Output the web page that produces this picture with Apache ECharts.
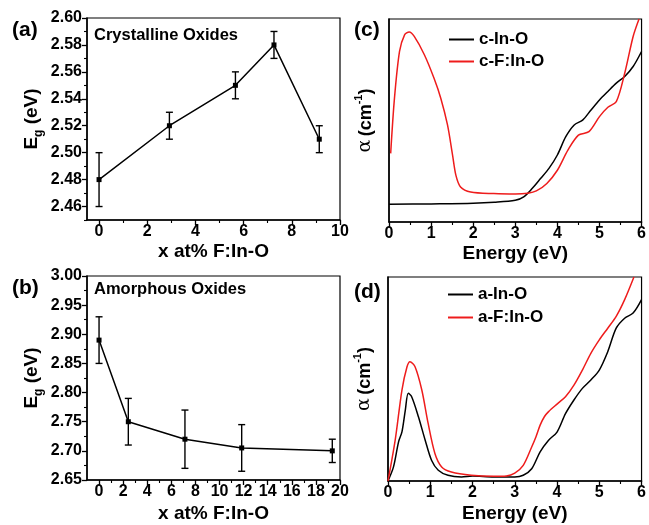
<!DOCTYPE html>
<html>
<head>
<meta charset="utf-8">
<script src="https://cdn.jsdelivr.net/npm/echarts@6/dist/echarts.min.js"></script>
<style>html,body{margin:0;padding:0;background:#fff;}#main{width:649px;height:525px;}</style>
</head>
<body>
<div id="main"></div>
<script>
// ---- Panel (a): crystalline oxides ----
var aX = [0, 2.92, 5.66, 7.26, 9.14];
var aY = [2.48, 2.52, 2.55, 2.58, 2.51];
var aErr = [0.02, 0.01, 0.01, 0.01, 0.01];
var aXTicks = [0, 2, 4, 6, 8, 10];
var aYTicks = [2.46, 2.48, 2.50, 2.52, 2.54, 2.56, 2.58, 2.60];

// ---- Panel (b): amorphous oxides ----
var bX = [0, 2.43, 7.13, 11.84, 19.36];
var bY = [2.89, 2.75, 2.72, 2.705, 2.70];
var bErr = [0.04, 0.04, 0.05, 0.04, 0.02];
var bXTicks = [0, 2, 4, 6, 8, 10, 12, 14, 16, 18, 20];
var bYTicks = [2.65, 2.70, 2.75, 2.80, 2.85, 2.90, 2.95, 3.00];

// ---- Panel (c): crystalline absorption spectra ----
var cInOX = [0, 1, 2, 2.5, 3.0, 3.2, 3.4, 3.6, 3.8, 4.0, 4.2, 4.4, 4.6, 4.8, 5.0, 5.2, 5.4, 5.6, 5.8, 6.0];
var cInOY = [8.7, 8.9, 9.2, 9.7, 10.7, 12.4, 16.5, 21.4, 26.4, 33, 42, 47.8, 50.2, 55.2, 60.1, 64.3, 68.4, 71.7, 76.6, 84];
var cFInOX = [0.04, 0.13, 0.25, 0.37, 0.48, 0.6, 0.84, 1.07, 1.23, 1.39, 1.51, 1.59, 1.7, 1.94, 2.49, 3.0, 3.3, 3.5, 3.75, 4.0, 4.25, 4.5, 4.75, 5.0, 5.2, 5.4, 5.6, 5.8, 5.94];
var cFInOY = [33.8, 61, 84, 92.2, 93.6, 91.4, 82.4, 70.8, 61, 47.8, 33, 23, 17.3, 14.8, 14.0, 13.8, 14.2, 15.3, 19, 25.5, 35.4, 42.8, 44.5, 51.9, 56.5, 59.3, 73.3, 91.4, 100];

// ---- Panel (d): amorphous absorption spectra ----
var aInOX = [0, 0.13, 0.25, 0.33, 0.41, 0.48, 0.56, 0.72, 0.88, 1.03, 1.19, 1.42, 1.74, 2.0, 2.5, 3.0, 3.2, 3.4, 3.6, 3.8, 4.0, 4.2, 4.4, 4.6, 4.8, 5.0, 5.2, 5.4, 5.6, 5.8, 6.0];
var aInOY = [0, 6.9, 19.2, 24.1, 34.8, 43, 41.3, 31.5, 20, 10.2, 5.3, 2.8, 2, 2.4, 2, 2, 2.8, 6, 14.3, 20, 24, 33, 39.7, 45.4, 49.5, 54.4, 63.4, 74.9, 79.8, 82.3, 88.9];
var aFInOX = [0, 0.17, 0.33, 0.45, 0.52, 0.64, 0.8, 0.95, 1.11, 1.27, 1.5, 1.97, 2.5, 2.8, 3.0, 3.2, 3.4, 3.5, 3.6, 3.7, 3.8, 4.0, 4.2, 4.4, 4.6, 4.8, 5.0, 5.2, 5.4, 5.6, 5.82];
var aFInOY = [0, 20, 44.6, 56, 58.5, 56, 44.6, 28.2, 13.5, 6.9, 4.4, 2.8, 2.3, 2.5, 3.9, 7.7, 16.7, 21.6, 27.4, 31.5, 34, 37.7, 41.3, 47, 54.4, 62.6, 69.2, 74.9, 80.7, 88.9, 100];
var eTicks = [0, 1, 2, 3, 4, 5, 6];

var FONT = '"Liberation Sans", Arial, sans-serif';

function pairs(xs, ys) { return xs.map(function (x, i) { return [x, ys[i]]; }); }
function errData(xs, ys, es) { return xs.map(function (x, i) { return [x, ys[i], ys[i] - es[i], ys[i] + es[i]]; }); }
function minors(majors) {
  var out = [];
  for (var i = 0; i < majors.length - 1; i++) out.push((majors[i] + majors[i + 1]) / 2);
  return out;
}

function mainX(grid, min, max, ticks, gap, name) {
  return {
    type: 'value', gridIndex: grid, min: min, max: max, position: 'bottom',
    axisLine: { show: true, onZero: false, lineStyle: { color: '#000', width: 1.5 } },
    axisTick: { show: true, inside: false, length: 5, customValues: ticks, lineStyle: { color: '#000', width: 1.3 } },
    axisLabel: { show: true, customValues: ticks, margin: 4, color: '#000', fontSize: 16, fontWeight: 'bold', fontFamily: FONT,
      formatter: function (v) { return String(Math.round(v)); } },
    splitLine: { show: false },
    name: name, nameLocation: 'middle', nameGap: gap,
    nameTextStyle: { fontSize: 19, fontWeight: 'bold', fontFamily: FONT, color: '#000' }
  };
}
function minorX(grid, min, max, ticks) {
  return {
    type: 'value', gridIndex: grid, min: min, max: max, position: 'bottom',
    axisLine: { show: false, onZero: false },
    axisTick: { show: true, inside: false, length: 3, customValues: ticks, lineStyle: { color: '#000', width: 1.1 } },
    axisLabel: { show: false }, splitLine: { show: false }
  };
}
function mainY(grid, min, max, ticks) {
  return {
    type: 'value', gridIndex: grid, min: min, max: max, position: 'left',
    axisLine: { show: true, onZero: false, lineStyle: { color: '#000', width: 1.5 } },
    axisTick: { show: true, inside: false, length: 5, customValues: ticks, lineStyle: { color: '#000', width: 1.3 } },
    axisLabel: { show: true, customValues: ticks, margin: 5, color: '#000', fontSize: 16, fontWeight: 'bold', fontFamily: FONT,
      formatter: function (v) { return v.toFixed(2); } },
    splitLine: { show: false },
    name: '{b|E}{s|g}{b| (eV)}', nameLocation: 'middle', nameGap: 46,
    nameTextStyle: { rich: {
      b: { fontSize: 19, fontWeight: 'bold', fontFamily: FONT, color: '#000', lineHeight: 24, verticalAlign: 'bottom' },
      s: { fontSize: 12, fontWeight: 'bold', fontFamily: FONT, color: '#000', lineHeight: 24, verticalAlign: 'bottom', padding: [0, 0, -4, 0] }
    } }
  };
}
function minorY(grid, min, max, ticks) {
  return {
    type: 'value', gridIndex: grid, min: min, max: max, position: 'left',
    axisLine: { show: false, onZero: false },
    axisTick: { show: true, inside: false, length: 3, customValues: ticks, lineStyle: { color: '#000', width: 1.1 } },
    axisLabel: { show: false }, splitLine: { show: false }
  };
}
function specY(grid) {
  return {
    type: 'value', gridIndex: grid, min: 0, max: 100, position: 'left',
    axisLine: { show: true, onZero: false, lineStyle: { color: '#000', width: 1.5 } },
    axisTick: { show: false }, axisLabel: { show: false }, splitLine: { show: false },
    name: '{a|α} {b|(cm}{s|-1}{b|)}', nameLocation: 'middle', nameGap: 14,
    nameTextStyle: { rich: {
      a: { fontSize: 19, fontFamily: '"DejaVu Serif", serif', color: '#000', lineHeight: 24, verticalAlign: 'bottom' },
      b: { fontSize: 18, fontWeight: 'bold', fontFamily: FONT, color: '#000', lineHeight: 24, verticalAlign: 'bottom' },
      s: { fontSize: 11, fontWeight: 'bold', fontFamily: FONT, color: '#000', lineHeight: 24, verticalAlign: 'top', padding: [2, 0, 0, 0] }
    } }
  };
}

function errSeries(xi, yi, data) {
  return {
    type: 'custom', coordinateSystem: 'cartesian2d', xAxisIndex: xi, yAxisIndex: yi, data: data, z: 3,
    encode: { x: 0, y: [1, 2, 3] },
    renderItem: function (params, api) {
      var x = api.value(0), lo = api.value(2), hi = api.value(3);
      var p1 = api.coord([x, lo]), p2 = api.coord([x, hi]);
      var w = 3.5, st = { stroke: '#000', lineWidth: 1.4 };
      return { type: 'group', children: [
        { type: 'line', shape: { x1: p1[0], y1: p1[1], x2: p2[0], y2: p2[1] }, style: st },
        { type: 'line', shape: { x1: p1[0] - w, y1: p1[1], x2: p1[0] + w, y2: p1[1] }, style: st },
        { type: 'line', shape: { x1: p2[0] - w, y1: p2[1], x2: p2[0] + w, y2: p2[1] }, style: st }
      ] };
    }
  };
}
function ptSeries(xi, yi, data) {
  return {
    type: 'line', xAxisIndex: xi, yAxisIndex: yi, data: data, z: 4,
    symbol: 'rect', symbolSize: 5, showSymbol: true,
    itemStyle: { color: '#000' }, lineStyle: { color: '#000', width: 1.5 }
  };
}
function specSeries(name, xi, yi, data, color) {
  return {
    name: name, type: 'line', xAxisIndex: xi, yAxisIndex: yi, data: data,
    showSymbol: false, smooth: 0.3, clip: true,
    itemStyle: { color: color }, lineStyle: { color: color, width: 1.5 }
  };
}

var gridStyle = { show: true, borderColor: '#000', borderWidth: 1.2, backgroundColor: 'transparent' };

var option = {
  animation: false,
  backgroundColor: '#fff',
  textStyle: { fontFamily: FONT },
  grid: [
    Object.assign({ left: 87, top: 18, width: 253, height: 202 }, gridStyle),
    Object.assign({ left: 87, top: 276, width: 253, height: 204 }, gridStyle),
    Object.assign({ left: 389, top: 19, width: 255, height: 203 }, gridStyle),
    Object.assign({ left: 388, top: 277, width: 255, height: 204 }, gridStyle)
  ],
  xAxis: [
    mainX(0, -0.5, 10, aXTicks, 22, 'x at% F:In-O'),   // 0
    minorX(0, -0.5, 10, minors(aXTicks)),              // 1
    mainX(1, -1, 20, bXTicks, 24, 'x at% F:In-O'),     // 2
    minorX(1, -1, 20, minors(bXTicks)),                // 3
    mainX(2, 0, 6, eTicks, 22, 'Energy (eV)'),         // 4
    mainX(3, 0, 6, eTicks, 23, 'Energy (eV)'),         // 5
    minorX(2, 0, 6, minors(eTicks)),                   // 6
    minorX(3, 0, 6, minors(eTicks))                    // 7
  ],
  yAxis: [
    mainY(0, 2.45, 2.60, aYTicks),                               // 0
    minorY(0, 2.45, 2.60, [2.45].concat(minors(aYTicks))),       // 1
    mainY(1, 2.65, 3.00, bYTicks),                               // 2
    minorY(1, 2.65, 3.00, minors(bYTicks)),                      // 3
    specY(2),                                                    // 4
    specY(3)                                                     // 5
  ],
  legend: [
    { data: ['c-In-O', 'c-F:In-O'], orient: 'vertical', left: 449, top: 31, itemGap: 5, padding: 0,
      icon: 'rect', itemWidth: 25, itemHeight: 2,
      textStyle: { fontSize: 17, fontWeight: 'bold', fontFamily: FONT, color: '#000' } },
    { data: ['a-In-O', 'a-F:In-O'], orient: 'vertical', left: 448, top: 286, itemGap: 6, padding: 0,
      icon: 'rect', itemWidth: 25, itemHeight: 2,
      textStyle: { fontSize: 17, fontWeight: 'bold', fontFamily: FONT, color: '#000' } }
  ],
  graphic: [
    { type: 'text', left: 12, top: 20, style: { text: '(a)', fontSize: 21, fontWeight: 'bold', fontFamily: FONT, fill: '#000' } },
    { type: 'text', left: 12, top: 278, style: { text: '(b)', fontSize: 21, fontWeight: 'bold', fontFamily: FONT, fill: '#000' } },
    { type: 'text', left: 354, top: 20, style: { text: '(c)', fontSize: 21, fontWeight: 'bold', fontFamily: FONT, fill: '#000' } },
    { type: 'text', left: 354, top: 282, style: { text: '(d)', fontSize: 21, fontWeight: 'bold', fontFamily: FONT, fill: '#000' } },
    { type: 'text', left: 94, top: 27, style: { text: 'Crystalline Oxides', fontSize: 16.5, fontWeight: 'bold', fontFamily: FONT, fill: '#000' } },
    { type: 'text', left: 94, top: 281, style: { text: 'Amorphous Oxides', fontSize: 16.5, fontWeight: 'bold', fontFamily: FONT, fill: '#000' } }
  ],
  series: [
    errSeries(0, 0, errData(aX, aY, aErr)),
    ptSeries(0, 0, pairs(aX, aY)),
    errSeries(2, 2, errData(bX, bY, bErr)),
    ptSeries(2, 2, pairs(bX, bY)),
    specSeries('c-In-O', 4, 4, pairs(cInOX, cInOY), '#000000'),
    specSeries('c-F:In-O', 4, 4, pairs(cFInOX, cFInOY), '#ee1c1c'),
    specSeries('a-In-O', 5, 5, pairs(aInOX, aInOY), '#000000'),
    specSeries('a-F:In-O', 5, 5, pairs(aFInOX, aFInOY), '#ee1c1c')
  ]
};

var chart = echarts.init(document.getElementById('main'), null, { renderer: 'canvas' });
chart.setOption(option);
</script>
</body>
</html>
